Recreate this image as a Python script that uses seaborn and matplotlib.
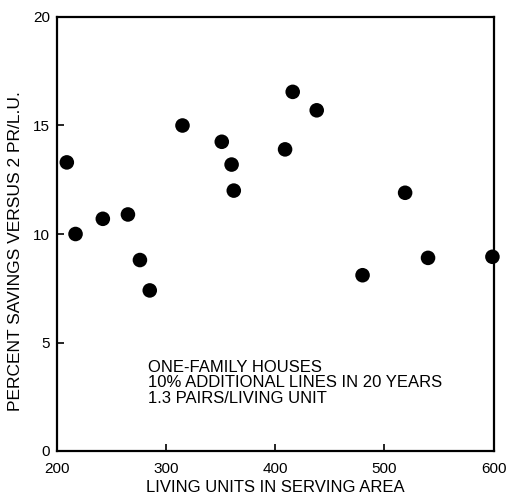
import matplotlib
matplotlib.use('Agg')
import matplotlib.pyplot as plt
import seaborn as sns
import pandas as pd

# living units in serving area vs percent savings
living_units = [209, 217, 242, 265, 276, 285, 315, 351, 360, 362, 409, 416, 438, 480, 519, 540, 599]
savings = [13.3, 10.0, 10.7, 10.9, 8.8, 7.4, 15.0, 14.25, 13.2, 12.0, 13.9, 16.55, 15.7, 8.1, 11.9, 8.9, 8.95]

x_ticks = [200, 300, 400, 500, 600]
y_ticks = [0, 5, 10, 15, 20]
note = "ONE-FAMILY HOUSES\n10% ADDITIONAL LINES IN 20 YEARS\n1.3 PAIRS/LIVING UNIT"

sns.set_style('ticks')
plt.rcParams['font.family'] = ['Liberation Sans', 'DejaVu Sans']

df = pd.DataFrame({'units': living_units, 'savings': savings})

fig = plt.figure(figsize=(5.07, 5.0), dpi=100)
ax = fig.add_axes([0.1124, 0.098, 0.861, 0.868])
sns.scatterplot(data=df, x='units', y='savings', color='black', s=110,
                edgecolor='none', ax=ax, clip_on=False, zorder=3)

ax.set_xlim(200, 600)
ax.set_ylim(0, 20)
ax.set_xticks(x_ticks)
ax.set_yticks(y_ticks)
ax.tick_params(direction='in', length=5, width=1.2, labelsize=11, colors='black', pad=5)
ax.tick_params(axis='x', pad=8)
for s in ax.spines.values():
    s.set_linewidth(1.6)
    s.set_color('black')

ax.set_xlabel('LIVING UNITS IN SERVING AREA', fontsize=12, labelpad=3, color='black')
ax.set_ylabel('PERCENT SAVINGS VERSUS 2 PR/L.U.', fontsize=12.5, color='black')
ax.yaxis.set_label_coords(-0.078, 0.46)

ax.text(283, 4.2, note, fontsize=12, va='top', ha='left', linespacing=1.05, color='black')

fig.savefig('out.png', dpi=100)
